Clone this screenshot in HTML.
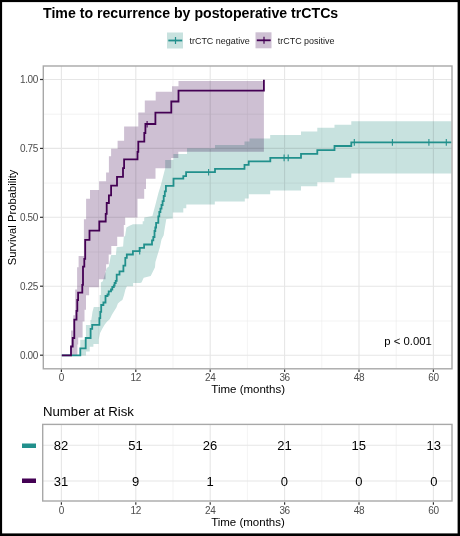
<!DOCTYPE html>
<html><head><meta charset="utf-8">
<style>
html,body{margin:0;padding:0;background:#fff;}
body{width:460px;height:536px;overflow:hidden;position:relative;}
svg{position:absolute;left:0;top:0;}
text{font-family:"Liberation Sans",sans-serif;}
</style></head><body>
<svg width="460" height="536" viewBox="0 0 460 536">
<rect x="0" y="0" width="460" height="536" fill="#000"/>
<rect x="2.1" y="2.1" width="455.5" height="531.3" fill="#fff"/>
<!-- title -->
<text x="43" y="18" font-size="14.15" font-weight="bold" fill="#000">Time to recurrence by postoperative trCTCs</text>
<!-- legend -->
<rect x="167" y="32.5" width="16" height="16" fill="rgb(200,226,223)"/>
<line x1="168.3" y1="40.5" x2="182.2" y2="40.5" stroke="#21908c" stroke-width="1.8"/>
<line x1="175.5" y1="37" x2="175.5" y2="44" stroke="#21908c" stroke-width="1.2"/>
<text x="189.5" y="44" font-size="8.95" fill="#1a1a1a">trCTC negative</text>
<rect x="255.5" y="32.3" width="16" height="16" fill="rgb(206,192,211)"/>
<line x1="256.8" y1="40.3" x2="270.7" y2="40.3" stroke="#440154" stroke-width="1.8"/>
<line x1="264" y1="36.8" x2="264" y2="43.8" stroke="#440154" stroke-width="1.2"/>
<text x="277.8" y="44" font-size="8.95" fill="#1a1a1a">trCTC positive</text>

<!-- main panel grid -->
<g stroke="#ebebeb" stroke-width="0.6">
  <line x1="43" y1="114.2" x2="452" y2="114.2"/>
  <line x1="43" y1="183.1" x2="452" y2="183.1"/>
  <line x1="43" y1="252" x2="452" y2="252"/>
  <line x1="43" y1="321" x2="452" y2="321"/>
  <line x1="98.6" y1="66" x2="98.6" y2="368.8"/>
  <line x1="173" y1="66" x2="173" y2="368.8"/>
  <line x1="247.4" y1="66" x2="247.4" y2="368.8"/>
  <line x1="321.8" y1="66" x2="321.8" y2="368.8"/>
  <line x1="396.2" y1="66" x2="396.2" y2="368.8"/>
</g>
<g stroke="#e6e6e6" stroke-width="1.1">
  <line x1="43" y1="79.5" x2="452" y2="79.5"/>
  <line x1="43" y1="148.4" x2="452" y2="148.4"/>
  <line x1="43" y1="217.3" x2="452" y2="217.3"/>
  <line x1="43" y1="286.2" x2="452" y2="286.2"/>
  <line x1="43" y1="355.2" x2="452" y2="355.2"/>
  <line x1="61.4" y1="66" x2="61.4" y2="368.8"/>
  <line x1="135.8" y1="66" x2="135.8" y2="368.8"/>
  <line x1="210.2" y1="66" x2="210.2" y2="368.8"/>
  <line x1="284.6" y1="66" x2="284.6" y2="368.8"/>
  <line x1="359" y1="66" x2="359" y2="368.8"/>
  <line x1="433.4" y1="66" x2="433.4" y2="368.8"/>
</g>

<g id="curves">
<path d="M 80.3 355.4 L 80.3 339.7 L 85.9 339.7 L 85.9 325.1 L 90.5 325.1 L 90.5 320.1 L 91.3 320.1 L 92.5 311.7 L 93.8 307.0 L 99.6 307.0 L 99.6 295.0 L 100.9 295.0 L 100.9 282.5 L 102.8 281.2 L 106.8 268.1 L 108.7 266.8 L 110.7 256.4 L 111.3 255.1 L 115.9 255.1 L 116.6 247.2 L 123.1 246.6 L 123.8 236.8 L 125.1 236.1 L 126.4 227.6 L 130.0 225.5 L 133.0 224.3 L 142.7 224.3 L 142.7 221.2 L 144.2 221.2 L 144.2 217.5 L 152.4 216.0 L 155.4 204.8 L 158.4 193.0 L 160.9 185.0 L 165.2 168.3 L 165.2 160.1 L 173.4 160.1 L 173.4 154.1 L 187.0 154.1 L 187.0 148.2 L 215.0 148.2 L 215.0 145.0 L 244.5 145.0 L 244.5 141.5 L 249.5 141.5 L 249.5 138.4 L 270.2 138.4 L 270.2 135.0 L 301.0 135.0 L 301.0 131.4 L 317.3 131.4 L 317.3 127.8 L 334.5 127.8 L 334.5 124.7 L 351.3 124.7 L 351.3 121.2 L 451.5 121.2 L 451.5 173.5 L 351.3 173.5 L 351.3 177.7 L 334.5 177.7 L 334.5 182.3 L 317.3 182.3 L 317.3 186.3 L 301.0 186.3 L 301.0 190.5 L 270.2 190.5 L 270.2 194.2 L 248.8 194.2 L 248.8 198.4 L 244.8 198.4 L 244.8 201.5 L 214.8 201.5 L 214.8 204.5 L 186.3 204.5 L 186.3 208.3 L 183.3 208.3 L 183.3 212.4 L 172.8 212.4 L 172.8 218.4 L 166.3 218.9 L 164.3 230.9 L 163.7 235.2 L 161.5 239.6 L 159.8 247.4 L 158.5 251.7 L 155.4 262.0 L 155.0 267.2 L 153.3 270.7 L 150.7 275.9 L 143.7 277.7 L 141.5 282.4 L 140.0 282.9 L 133.1 282.9 L 133.1 286.2 L 126.9 286.2 L 125.4 289.5 L 123.9 295.4 L 122.4 299.9 L 120.1 301.4 L 117.9 303.6 L 116.4 307.4 L 114.2 311.1 L 111.9 314.8 L 109.7 319.3 L 106.9 321.7 L 104.6 324.7 L 102.4 328.4 L 100.1 332.9 L 98.7 339.6 L 98.7 344.1 L 93.4 344.1 L 93.4 346.7 L 89.7 346.7 L 89.7 351.6 L 86.0 351.6 L 86.0 355.4 L 80.3 355.4 Z" fill="rgb(200,226,223)" style="mix-blend-mode:multiply"/>
<path d="M 71.0 355.4 L 71.0 330.4 L 73.3 330.4 L 73.3 315.2 L 75.2 315.2 L 75.2 289.5 L 77.1 289.5 L 77.1 267.3 L 78.6 267.3 L 78.6 256.1 L 83.9 256.1 L 83.9 219.3 L 86.1 219.3 L 86.1 198.7 L 90.0 198.7 L 90.0 190.0 L 99.1 190.0 L 99.1 181.3 L 106.1 181.3 L 106.1 172.6 L 108.9 172.6 L 108.9 156.3 L 111.1 156.3 L 111.1 148.7 L 117.6 148.7 L 117.6 140.7 L 124.1 140.7 L 124.1 126.5 L 138.3 126.5 L 138.3 112.4 L 144.8 112.4 L 144.8 100.4 L 155.7 100.4 L 155.7 91.7 L 172.0 91.7 L 172.0 86.3 L 178.5 86.3 L 178.5 80.9 L 263.9 80.9 L 263.9 152.2 L 263.9 151.8 L 178.3 151.8 L 178.3 157.9 L 171.2 157.9 L 171.2 168.3 L 155.5 168.3 L 155.5 178.8 L 146.0 178.8 L 146.0 189.0 L 144.2 189.0 L 144.2 198.8 L 137.5 198.8 L 137.5 217.4 L 125.2 217.4 L 125.2 225.0 L 123.8 225.0 L 123.8 236.8 L 117.2 236.8 L 117.2 245.9 L 111.3 245.9 L 111.3 254.4 L 108.7 254.4 L 108.7 264.2 L 106.1 264.2 L 106.1 270.7 L 105.5 270.7 L 105.5 279.2 L 98.9 279.2 L 98.9 287.2 L 89.1 287.2 L 89.1 295.2 L 86.0 295.2 L 86.0 309.8 L 84.5 309.8 L 84.5 321.5 L 82.6 321.5 L 82.6 337.4 L 78.2 337.4 L 78.2 344.6 L 77.4 344.6 L 77.4 355.4 Z" fill="rgb(206,192,211)" style="mix-blend-mode:multiply"/>
<path d="M 61.8 355.4 H 80.3 V 348.4 H 85.7 V 338 H 90.6 V 328.8 H 92.2 V 324.9 H 99.4 V 318.2 H 100.3 V 311.9 H 101.2 V 305 H 103.4 V 302.5 H 105.5 V 296 H 107.5 V 294.5 H 108.7 V 291.3 H 111 V 289.5 H 112.3 V 287 H 113.8 V 285.5 H 114.6 V 283 H 115.7 V 280.8 H 116.7 V 274.7 H 119.5 V 271.3 H 123.4 V 265.7 H 125.3 V 257.9 H 126.8 V 254.5 H 132.9 V 251.2 H 139.6 V 247.8 H 144.1 V 244.5 H 152 V 240.4 H 153.3 V 237 H 154.5 V 231 H 155.3 V 227.5 H 156.1 V 222.8 H 158.3 V 216.3 H 159.3 V 212 H 160.4 V 208.7 H 161.5 V 205 H 162.6 V 201.1 H 163.7 V 196 H 164.8 V 191.3 H 165.9 V 185.9 H 173.5 V 178.7 H 183.3 V 176.1 H 186.1 V 172.2 H 215 V 168.8 H 244.5 V 164.8 H 248.7 V 161.4 H 270.3 V 157.9 H 301 V 153.9 H 317.3 V 150.2 H 334.5 V 146 H 351.3 V 142.4 H 451.5" fill="none" stroke="#21908c" stroke-width="1.8" stroke-linejoin="miter"/>
<line x1="139.7" y1="247.89999999999998" x2="139.7" y2="254.5" stroke="#21908c" stroke-width="1.1"/>
<line x1="208.6" y1="168.89999999999998" x2="208.6" y2="175.5" stroke="#21908c" stroke-width="1.1"/>
<line x1="284.1" y1="154.6" x2="284.1" y2="161.20000000000002" stroke="#21908c" stroke-width="1.1"/>
<line x1="288.2" y1="154.6" x2="288.2" y2="161.20000000000002" stroke="#21908c" stroke-width="1.1"/>
<line x1="354.3" y1="139.1" x2="354.3" y2="145.70000000000002" stroke="#21908c" stroke-width="1.1"/>
<line x1="392.4" y1="139.1" x2="392.4" y2="145.70000000000002" stroke="#21908c" stroke-width="1.1"/>
<line x1="428.9" y1="139.1" x2="428.9" y2="145.70000000000002" stroke="#21908c" stroke-width="1.1"/>
<line x1="446.3" y1="139.1" x2="446.3" y2="145.70000000000002" stroke="#21908c" stroke-width="1.1"/>
<path d="M 61.8 355.4 H 71 V 346.5 H 72.7 V 338 H 74.3 V 319.6 H 76.5 V 310.9 H 77.3 V 300 H 78.1 V 292.7 H 82.3 V 284.9 H 83 V 266.6 H 84.3 V 258.8 H 85.2 V 239.8 H 89.5 V 230.7 H 99.3 V 221.5 H 105.7 V 213.9 H 106.7 V 203 H 108.9 V 195.4 H 111.1 V 185.6 H 117 V 176.9 H 123 V 168.2 H 124.1 V 159.3 H 137.5 V 151.9 H 138.3 V 141.6 H 144.3 V 133 H 145.4 V 124 H 155.4 V 112.7 H 171.3 V 101.5 H 178.5 V 90.7 H 263.9 V 79.8" fill="none" stroke="#440154" stroke-width="1.8" stroke-linejoin="miter"/>
<line x1="147.1" y1="120.9" x2="147.1" y2="127.5" stroke="#440154" stroke-width="1.1"/>
</g>

<rect x="43.3" y="66" width="408.7" height="302.8" fill="none" stroke="#a8a8a8" stroke-width="1.4"/>
<!-- y ticks -->
<g stroke="#333" stroke-width="1.2">
  <line x1="40" y1="79.5" x2="43" y2="79.5"/>
  <line x1="40" y1="148.4" x2="43" y2="148.4"/>
  <line x1="40" y1="217.3" x2="43" y2="217.3"/>
  <line x1="40" y1="286.2" x2="43" y2="286.2"/>
  <line x1="40" y1="355.2" x2="43" y2="355.2"/>
  <line x1="61.4" y1="369.5" x2="61.4" y2="372"/>
  <line x1="135.8" y1="369.5" x2="135.8" y2="372"/>
  <line x1="210.2" y1="369.5" x2="210.2" y2="372"/>
  <line x1="284.6" y1="369.5" x2="284.6" y2="372"/>
  <line x1="359" y1="369.5" x2="359" y2="372"/>
  <line x1="433.4" y1="369.5" x2="433.4" y2="372"/>
</g>
<g font-size="10" letter-spacing="-0.35" fill="#4d4d4d" text-anchor="end">
  <text x="38" y="83">1.00</text>
  <text x="38" y="151.9">0.75</text>
  <text x="38" y="220.8">0.50</text>
  <text x="38" y="289.7">0.25</text>
  <text x="38" y="358.7">0.00</text>
</g>
<g font-size="10" letter-spacing="-0.35" fill="#4d4d4d" text-anchor="middle">
  <text x="61.4" y="381">0</text>
  <text x="135.8" y="381">12</text>
  <text x="210.2" y="381">24</text>
  <text x="284.6" y="381">36</text>
  <text x="359" y="381">48</text>
  <text x="433.4" y="381">60</text>
</g>
<text x="248.2" y="392.8" font-size="11.5" text-anchor="middle" fill="#000">Time (months)</text>
<text transform="translate(15.5,217.4) rotate(-90)" font-size="11.25" text-anchor="middle" fill="#000">Survival Probability</text>
<text x="384.3" y="345.3" font-size="11.3" fill="#000">p &lt; 0.001</text>

<!-- risk table -->
<text x="43" y="416.2" font-size="13.2" fill="#000">Number at Risk</text>
<g stroke="#ebebeb" stroke-width="0.6">
  <line x1="98.6" y1="424.5" x2="98.6" y2="501.2"/>
  <line x1="173" y1="424.5" x2="173" y2="501.2"/>
  <line x1="247.4" y1="424.5" x2="247.4" y2="501.2"/>
  <line x1="321.8" y1="424.5" x2="321.8" y2="501.2"/>
  <line x1="396.2" y1="424.5" x2="396.2" y2="501.2"/>
</g>
<g stroke="#e6e6e6" stroke-width="1.1">
  <line x1="43" y1="445.2" x2="452" y2="445.2"/>
  <line x1="43" y1="481" x2="452" y2="481"/>
  <line x1="61.4" y1="424.5" x2="61.4" y2="501.2"/>
  <line x1="135.8" y1="424.5" x2="135.8" y2="501.2"/>
  <line x1="210.2" y1="424.5" x2="210.2" y2="501.2"/>
  <line x1="284.6" y1="424.5" x2="284.6" y2="501.2"/>
  <line x1="359" y1="424.5" x2="359" y2="501.2"/>
  <line x1="433.4" y1="424.5" x2="433.4" y2="501.2"/>
</g>
<rect x="42.7" y="424.4" width="409.3" height="76.6" fill="none" stroke="#a8a8a8" stroke-width="1.4"/>
<rect x="22" y="443.5" width="14" height="4.5" fill="#21908c"/>
<rect x="22" y="478.5" width="14" height="4.5" fill="#440154"/>
<g font-size="13" fill="#000" text-anchor="middle">
  <text x="61" y="450.2">82</text>
  <text x="135.6" y="450.2">51</text>
  <text x="210" y="450.2">26</text>
  <text x="284.4" y="450.2">21</text>
  <text x="358.8" y="450.2">15</text>
  <text x="433.8" y="450.2">13</text>
  <text x="61" y="486">31</text>
  <text x="135.6" y="486">9</text>
  <text x="210" y="486">1</text>
  <text x="284.4" y="486">0</text>
  <text x="358.8" y="486">0</text>
  <text x="433.8" y="486">0</text>
</g>
<g stroke="#333" stroke-width="1.2">
  <line x1="61.4" y1="502.2" x2="61.4" y2="504.7"/>
  <line x1="135.8" y1="502.2" x2="135.8" y2="504.7"/>
  <line x1="210.2" y1="502.2" x2="210.2" y2="504.7"/>
  <line x1="284.6" y1="502.2" x2="284.6" y2="504.7"/>
  <line x1="359" y1="502.2" x2="359" y2="504.7"/>
  <line x1="433.4" y1="502.2" x2="433.4" y2="504.7"/>
</g>
<g font-size="10" letter-spacing="-0.35" fill="#4d4d4d" text-anchor="middle">
  <text x="61.4" y="514">0</text>
  <text x="135.8" y="514">12</text>
  <text x="210.2" y="514">24</text>
  <text x="284.6" y="514">36</text>
  <text x="359" y="514">48</text>
  <text x="433.4" y="514">60</text>
</g>
<text x="248" y="526" font-size="11.5" text-anchor="middle" fill="#000">Time (months)</text>

<!-- outer frame -->

</svg>
</body></html>
